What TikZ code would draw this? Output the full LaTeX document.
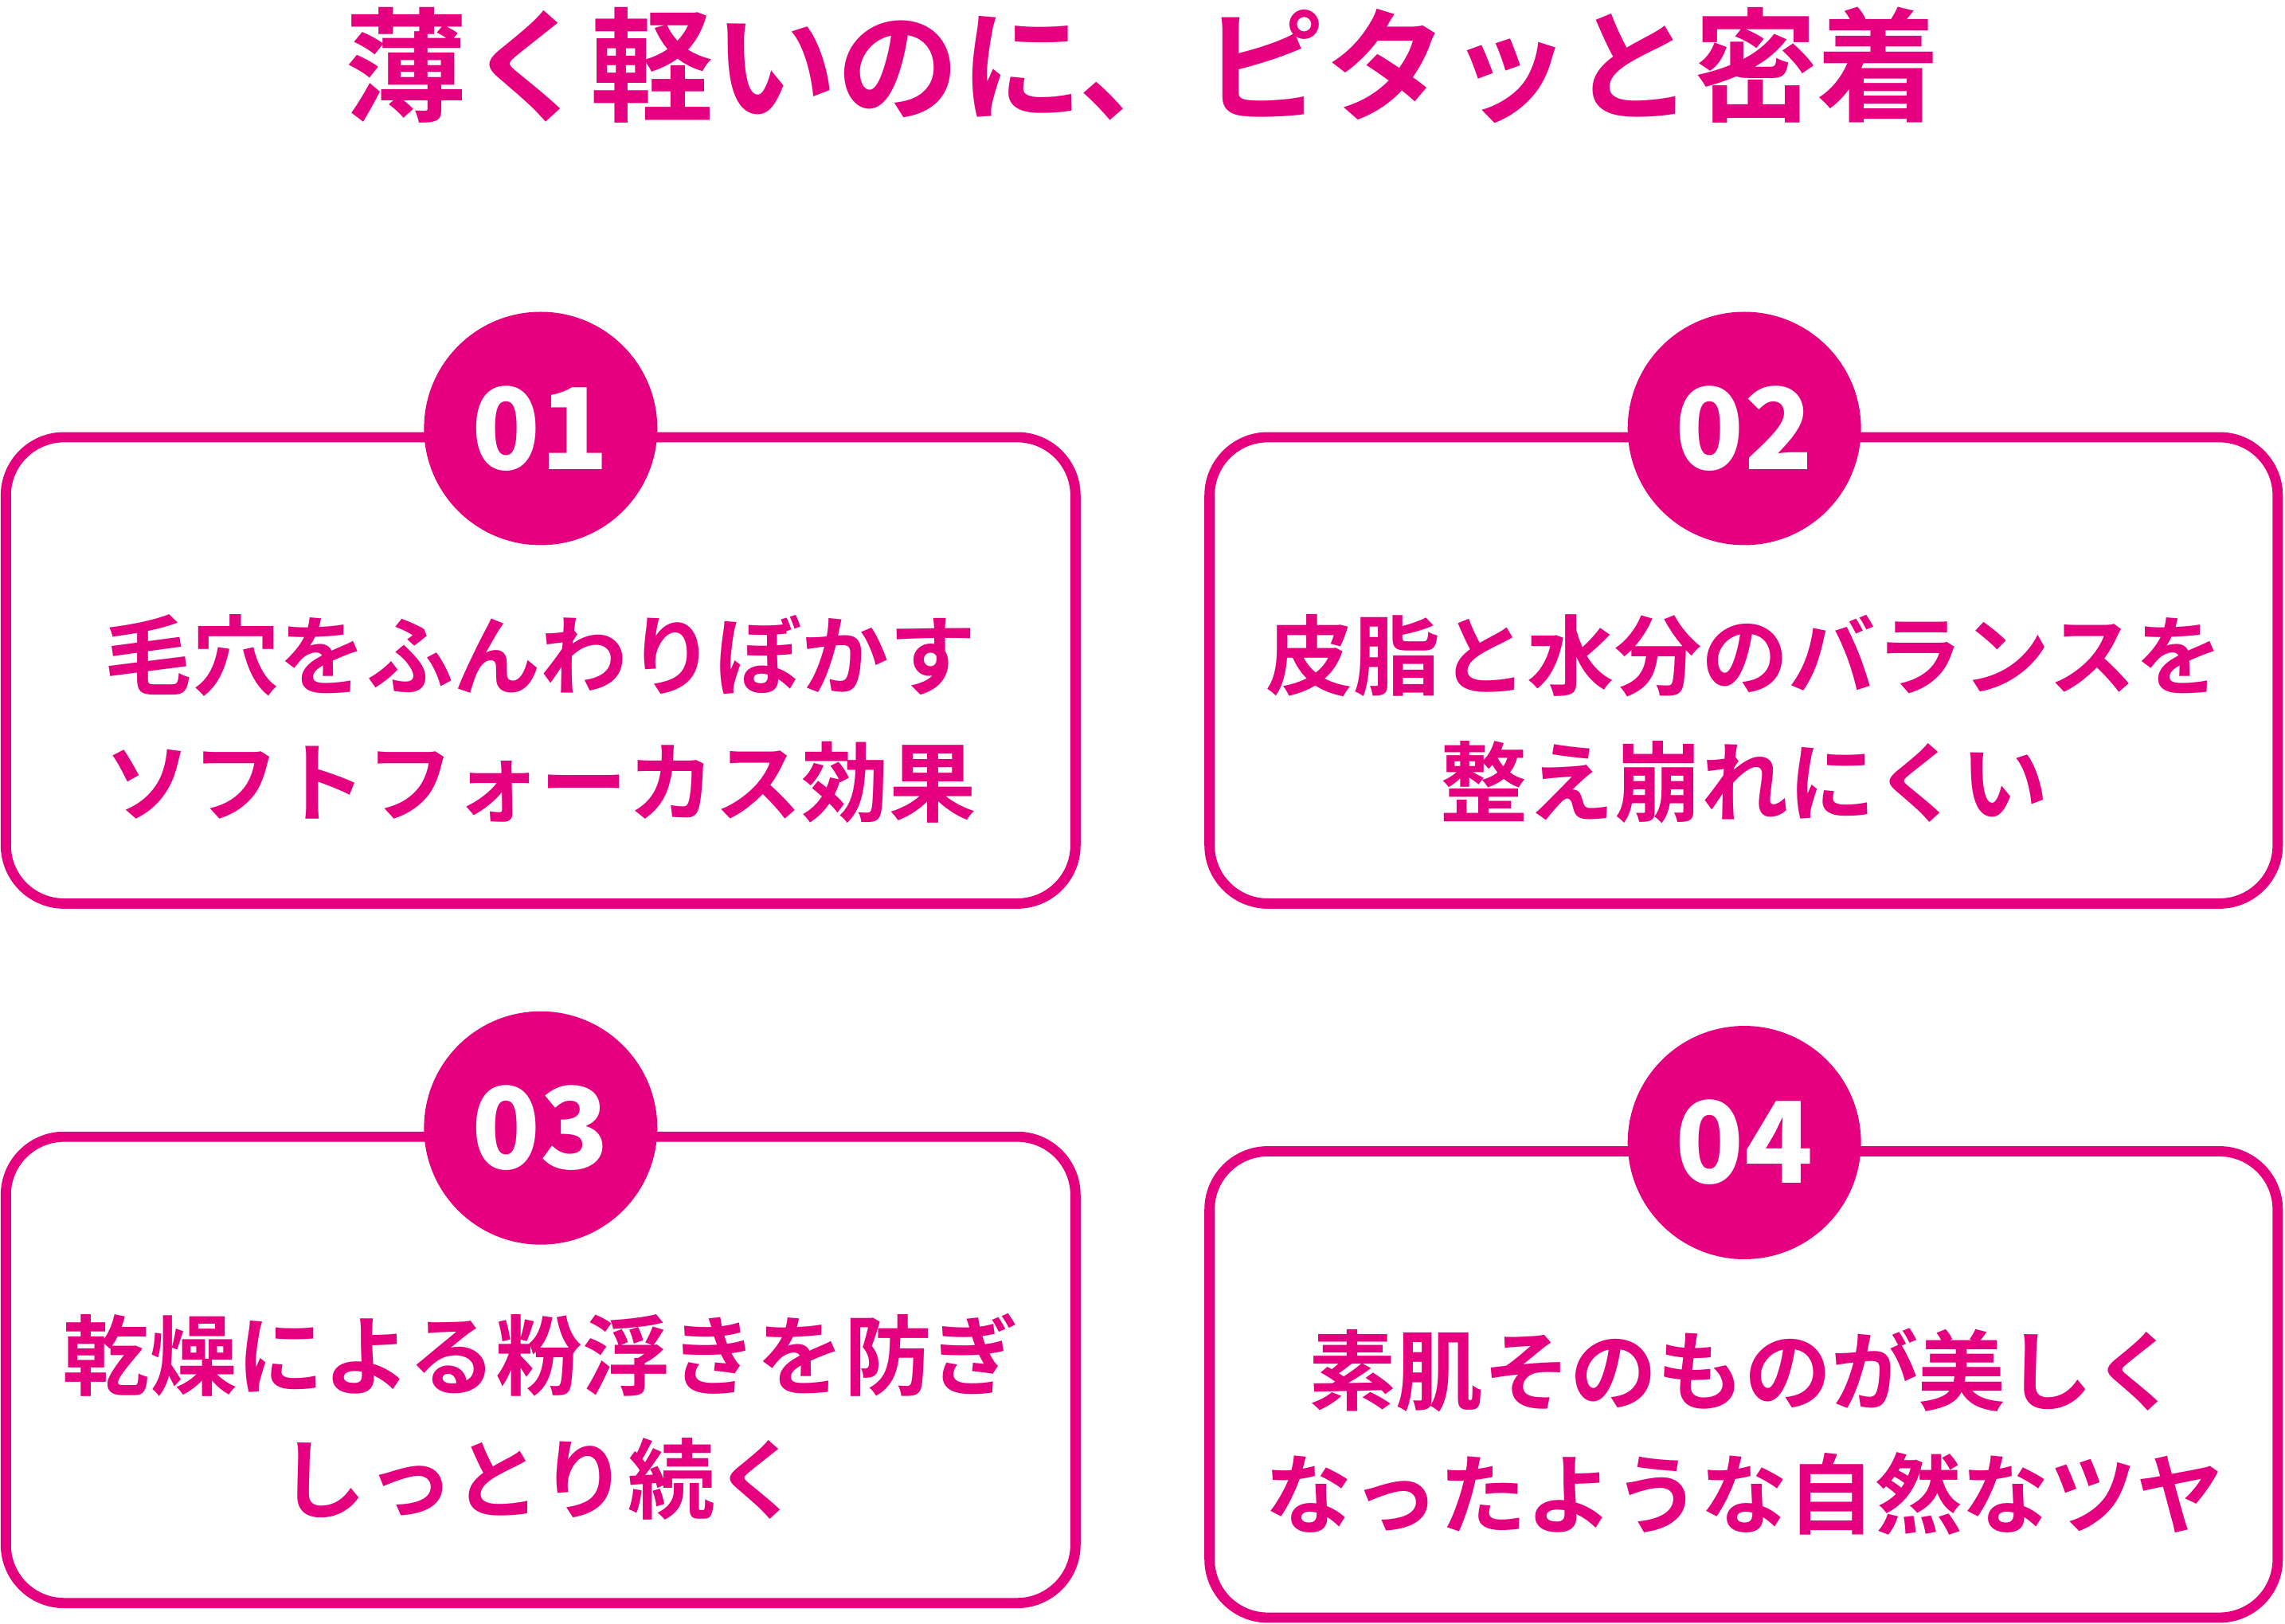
\documentclass[tikz,border=0pt]{standalone}
\usepackage{fontspec}
\setmainfont{Noto Sans CJK JP Bold}
\definecolor{mag}{HTML}{E4007F}
\begin{document}
\begin{tikzpicture}[x=0.01cm,y=-0.01cm,
  card/.style={draw=mag,line width=2pt,rounded corners=0.4cm},
  badge/.style={circle,fill=mag,minimum size=1.6cm,inner sep=0pt,text=white,font=\fontsize{22}{24}\selectfont\bfseries},
  body/.style={text=mag,font=\fontsize{17}{20}\selectfont,inner sep=0pt}]
\useasboundingbox (0,0) rectangle (1568,1114);
\node[text=mag,font=\fontsize{24}{28}\selectfont] (title) at (784,45) {薄く軽いのに、ピタッと密着};
\draw[card] (4,300) rectangle (738,620);
\draw[card] (830,300) rectangle (1563,620);
\draw[card] (4,780) rectangle (738,1100);
\draw[card] (830,790) rectangle (1563,1110);
\node[badge] (b1) at (371,294) {01};
\node[badge] (b2) at (1197,294) {02};
\node[badge] (b3) at (371,774) {03};
\node[badge] (b4) at (1197,784) {04};
\node[body] (t1a) at (371,450) {毛穴をふんわりぼかす};
\node[body] (t1b) at (371,537) {ソフトフォーカス効果};
\node[body] (t2a) at (1197,450) {皮脂と水分のバランスを};
\node[body] (t2b) at (1197,537) {整え崩れにくい};
\node[body] (t3a) at (371,930) {乾燥による粉浮きを防ぎ};
\node[body] (t3b) at (371,1015) {しっとり続く};
\node[body] (t4a) at (1197,940) {素肌そのものが美しく};
\node[body] (t4b) at (1197,1025) {なったような自然なツヤ};
\end{tikzpicture}
\end{document}
